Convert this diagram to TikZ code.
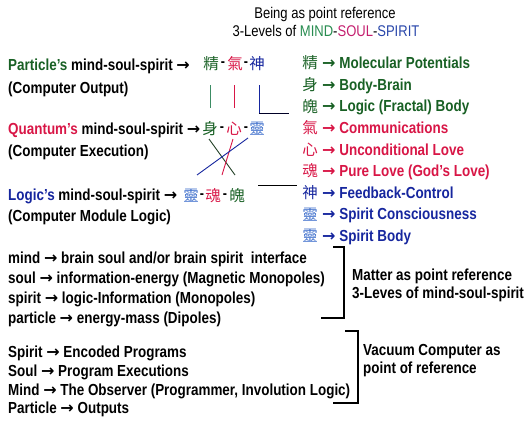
\documentclass[tikz,border=0pt]{standalone}
\usepackage{fontspec}
\setmainfont{Liberation Sans}[FakeStretch=0.84]
\newfontfamily\mssHanzi{Noto Sans CJK TC}
\newfontfamily\mssArrowFont{DejaVu Sans}
\usepackage{xcolor}
\definecolor{mssMind}{RGB}{24,96,36}
\definecolor{mssSoul}{RGB}{216,22,70}
\definecolor{mssSpirit}{RGB}{22,38,158}
\definecolor{mssLing}{RGB}{64,112,204}
\definecolor{mssTitleMind}{RGB}{40,140,80}
\definecolor{mssTitleSoul}{RGB}{196,30,110}
\definecolor{mssTitleSpirit}{RGB}{40,70,170}
\definecolor{mssGreenLine}{RGB}{60,140,100}
\definecolor{mssCross}{RGB}{36,66,40}
\newcommand{\mssTo}{{\mssArrowFont\bfseries →}}
\tikzset{
  mssRow/.style={anchor=base west, inner sep=0pt, font=\fontsize{16}{19}\selectfont\bfseries},
  mssTitle/.style={anchor=base, inner sep=0pt, font=\fontsize{15.5}{18}\selectfont},
  mssChar/.style={inner sep=0pt, font=\fontsize{15.5}{18}\selectfont\mssHanzi},
  mssDash/.style={inner sep=0pt, font=\fontsize{15}{18}\selectfont\bfseries},
  mssLink/.style={line width=0.9pt},
  mssBracket/.style={line width=1.1pt}
}

\begin{document}
\begin{tikzpicture}[x=1pt,y=-1pt]
\useasboundingbox (0,0) rectangle (532,434);
% title
\node[mssTitle] (title1) at (325,18) {Being as point reference};
\node[mssTitle] (title2) at (326,36) {3-Levels of \textcolor{mssTitleMind}{MIND}-\textcolor{mssTitleSoul}{SOUL}-\textcolor{mssTitleSpirit}{SPIRIT}};
% three levels, left side
\node[mssRow] (partLabel) at (8,70) {\textcolor{mssMind}{Particle's} mind-soul-spirit \mssTo};
\node[mssRow] (partNote) at (8,93) {(Computer Output)};
\node[mssRow] (quantLabel) at (8,134) {\textcolor{mssSoul}{Quantum's} mind-soul-spirit \mssTo};
\node[mssRow] (quantNote) at (8,156) {(Computer Execution)};
\node[mssRow] (logicLabel) at (8,200) {\textcolor{mssSpirit}{Logic's} mind-soul-spirit \mssTo};
\node[mssRow] (logicNote) at (8,221) {(Computer Module Logic)};
\node[mssChar, text=mssMind] (p1) at (211,64) {精};
\node[mssDash] at (223,64) {-};
\node[mssChar, text=mssSoul] (p2) at (235,64) {氣};
\node[mssDash] at (246,64) {-};
\node[mssChar, text=mssSpirit] (p3) at (257,64) {神};
\node[mssChar, text=mssMind] (q1) at (210,129) {身};
\node[mssDash] at (222,129) {-};
\node[mssChar, text=mssSoul] (q2) at (234,129) {心};
\node[mssDash] at (246,129) {-};
\node[mssChar, text=mssLing] (q3) at (257,129) {靈};
\node[mssChar, text=mssLing] (l1) at (191,196) {靈};
\node[mssDash] at (202,196) {-};
\node[mssChar, text=mssSoul] (l2) at (213,196) {魂};
\node[mssDash] at (225,196) {-};
\node[mssChar, text=mssMind] (l3) at (237,196) {魄};
% right column
\node[mssChar, text=mssMind] (r1) at (310,63) {精};
\node[mssRow, text=mssMind] (r1Text) at (322,68.6) {\mssTo{} Molecular Potentials};
\node[mssChar, text=mssMind] (r2) at (310,84.6) {身};
\node[mssRow, text=mssMind] (r2Text) at (322,90.2) {\mssTo{} Body-Brain};
\node[mssChar, text=mssMind] (r3) at (310,106.2) {魄};
\node[mssRow, text=mssMind] (r3Text) at (322,111.8) {\mssTo{} Logic (Fractal) Body};
\node[mssChar, text=mssSoul] (r4) at (310,127.8) {氣};
\node[mssRow, text=mssSoul] (r4Text) at (322,133.4) {\mssTo{} Communications};
\node[mssChar, text=mssSoul] (r5) at (310,149.4) {心};
\node[mssRow, text=mssSoul] (r5Text) at (322,155) {\mssTo{} Unconditional Love};
\node[mssChar, text=mssSoul] (r6) at (310,171) {魂};
\node[mssRow, text=mssSoul] (r6Text) at (322,176.6) {\mssTo{} Pure Love (God's Love)};
\node[mssChar, text=mssSpirit] (r7) at (310,192.6) {神};
\node[mssRow, text=mssSpirit] (r7Text) at (322,198.2) {\mssTo{} Feedback-Control};
\node[mssChar, text=mssLing] (r8) at (310,214.2) {靈};
\node[mssRow, text=mssSpirit] (r8Text) at (322,219.8) {\mssTo{} Spirit Consciousness};
\node[mssChar, text=mssLing] (r9) at (310,235.8) {靈};
\node[mssRow, text=mssSpirit] (r9Text) at (322,241.4) {\mssTo{} Spirit Body};
% links between the levels
\draw[mssLink, mssGreenLine] ([shift={(-1,21)}]p1.center) -- ([shift={(0,-21)}]q1.center);
\draw[mssLink, mssSoul] ([shift={(-1,21)}]p2.center) -- ([shift={(0,-21)}]q2.center);
\coordinate (pCorner) at ([shift={(2,49)}]p3.center);
\draw[mssLink, mssSpirit] ([shift={(2,21)}]p3.center) -- (pCorner);
\draw[mssLink, black!85!blue] (pCorner) -- ([shift={(-13,0)}]pCorner -| r3.west);
\draw[mssLink, mssCross] ([shift={(-1,10)}]q1.center) -- ([shift={(-2,-21)}]l3.center);
\draw[mssLink, mssSoul] ([shift={(-1,10)}]q2.center) -- ([shift={(9,-21)}]l2.center);
\draw[mssLink, mssSpirit] ([shift={(-9,9)}]q3.center) -- ([shift={(6,-21)}]l1.center);
\coordinate (fbStart) at ([shift={(-52,-7.5)}]r7.center);
\draw[mssLink] (fbStart) -- ([shift={(-13,-7.5)}]r7.center);
% matter as point reference
\node[mssRow] (m1) at (8,263) {mind \mssTo{} brain soul and/or brain spirit\ \ interface};
\node[mssRow] (m2) at (8,283) {soul \mssTo{} information-energy (Magnetic Monopoles)};
\node[mssRow] (m3) at (8,303) {spirit \mssTo{} logic-Information (Monopoles)};
\node[mssRow] (m4) at (8,323) {particle \mssTo{} energy-mass (Dipoles)};
\draw[mssBracket] (333,247) -- (344,247) -- (344,318) -- (321,318);
\node[mssRow] (matterNote1) at (352,280) {Matter as point reference};
\node[mssRow] (matterNote2) at (352,298) {3-Leves of mind-soul-spirit};
% vacuum computer as point of reference
\node[mssRow] (v1) at (8,357) {Spirit \mssTo{} Encoded Programs};
\node[mssRow] (v2) at (8,376) {Soul \mssTo{} Program Executions};
\node[mssRow] (v3) at (8,395) {Mind \mssTo{} The Observer (Programmer, Involution Logic)};
\node[mssRow] (v4) at (8,413) {Particle \mssTo{} Outputs};
\draw[mssBracket] (345,331) -- (358,331) -- (358,403) -- (333,403);
\node[mssRow] (vacuumNote1) at (363,355) {Vacuum Computer as};
\node[mssRow] (vacuumNote2) at (363,373) {point of reference};
\end{tikzpicture}
\end{document}
